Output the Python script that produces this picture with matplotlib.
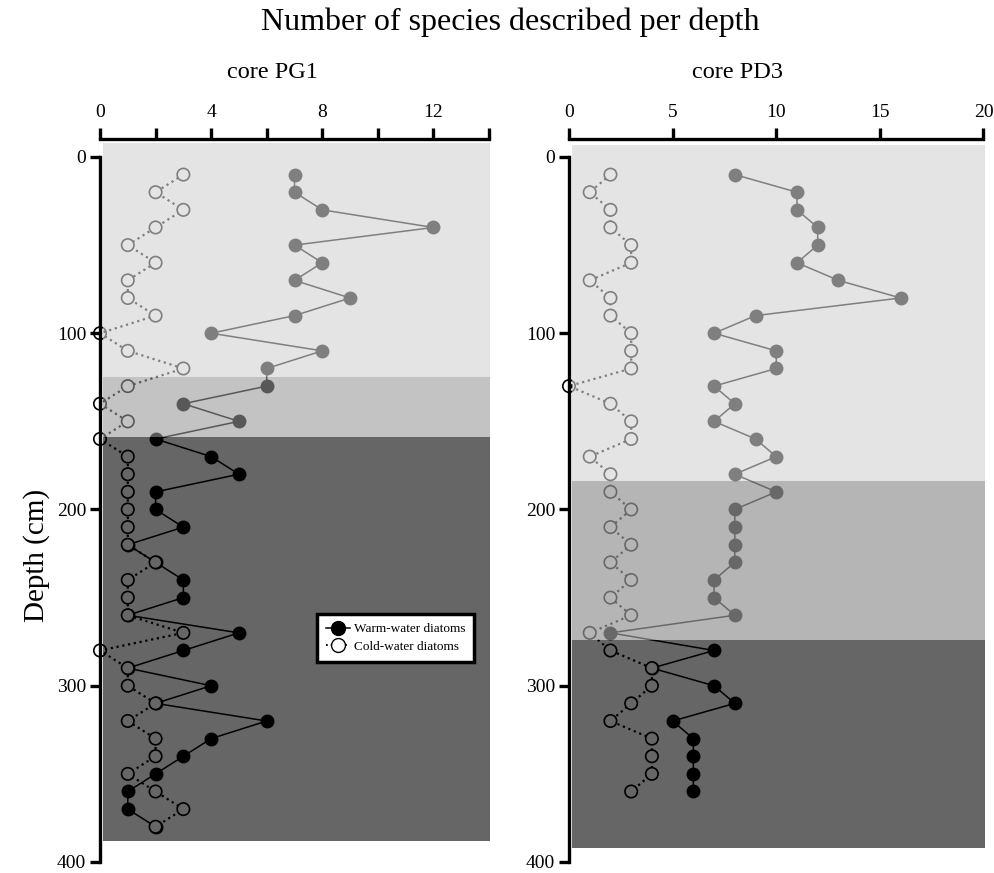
import matplotlib
matplotlib.use('Agg')
import matplotlib.pyplot as plt
from matplotlib.patches import Rectangle
from matplotlib.lines import Line2D

plt.rcParams['font.family'] = ['Liberation Serif', 'DejaVu Serif']

# ---------------- data ----------------
depth_pg1 = [10, 20, 30, 40, 50, 60, 70, 80, 90, 100, 110, 120, 130, 140, 150, 160, 170, 180, 190,
             200, 210, 220, 230, 240, 250, 260, 270, 280, 290, 300, 310, 320, 330, 340, 350, 360, 370, 380]
warm_pg1 = [7, 7, 8, 12, 7, 8, 7, 9, 7, 4, 8, 6, 6, 3, 5, 2, 4, 5, 2, 2,
            3, 1, 2, 3, 3, 1, 5, 3, 1, 4, 2, 6, 4, 3, 2, 1, 1, 2]
cold_pg1 = [3, 2, 3, 2, 1, 2, 1, 1, 2, 0, 1, 3, 1, 0, 1, 0, 1, 1, 1, 1,
            1, 1, 2, 1, 1, 1, 3, 0, 1, 1, 2, 1, 2, 2, 1, 2, 3, 2]

depth_pd3 = [10, 20, 30, 40, 50, 60, 70, 80, 90, 100, 110, 120, 130, 140, 150, 160, 170, 180,
             190, 200, 210, 220, 230, 240, 250, 260, 270, 280, 290, 300, 310, 320, 330, 340, 350, 360]
warm_pd3 = [8, 11, 11, 12, 12, 11, 13, 16, 9, 7, 10, 10, 7, 8, 7, 9, 10, 8,
            10, 8, 8, 8, 8, 7, 7, 8, 2, 7, 4, 7, 8, 5, 6, 6, 6, 6]
cold_pd3 = [2, 1, 2, 2, 3, 3, 1, 2, 2, 3, 3, 3, 0, 2, 3, 3, 1, 2,
            2, 3, 2, 3, 2, 3, 2, 3, 1, 2, 4, 4, 3, 2, 4, 4, 4, 3]

# zone limits (depth, cm)
zones_pg1 = [(-8, 125), (125, 159), (159, 388)]
zones_pd3 = [(-7, 184), (184, 274), (274, 392)]

xticks_pg1 = [0, 2, 4, 6, 8, 10, 12, 14]
xticklabels_pg1 = ['0', '', '4', '', '8', '', '12', '']
xticks_pd3 = [0, 5, 10, 15, 20]
xticklabels_pd3 = ['0', '5', '10', '15', '20']
yticks = [0, 100, 200, 300, 400]

# base grey + white overlay alpha per zone (light, medium, dark)
base_pg1 = ['#c9c9c9', '#a3a3a3', '#666666']
alpha_pg1 = [0.5, 0.35, 0.0]
base_pd3 = ['#c9c9c9', '#838383', '#666666']
alpha_pd3 = [0.5, 0.41, 0.0]

W, H = 995, 873
fig = plt.figure(figsize=(W / 100, H / 100), dpi=100)

ytop = -10.2
ybot = 400
AX_TOP, AX_BOT = 139, 862


def px_axes(x0, x1, y0, y1):
    return [x0 / W, 1 - y1 / H, (x1 - x0) / W, (y1 - y0) / H]


def panel(ax, depth, warm, cold, zones, bases, alphas, xmax, xticks, xlabels):
    ax.set_xlim(0, xmax)
    ax.set_ylim(ybot, ytop)
    x0 = 0.0075 * xmax
    x1 = xmax * 1.003
    for (za, zb), bc, al in zip(zones, bases, alphas):
        ax.add_patch(Rectangle((x0, za), x1 - x0, zb - za, facecolor=bc,
                               edgecolor='none', zorder=0, clip_on=False))
        if al > 0:
            ax.add_patch(Rectangle((x0, za), x1 - x0, zb - za, facecolor='white',
                                   alpha=al, edgecolor='none', zorder=6, clip_on=False))
    # face colors for open circles = base of zone (none on the axis line)
    faces = []
    for d, c in zip(depth, cold):
        fc = bases[-1]
        for (za, zb), bc in zip(zones, bases):
            if za <= d < zb:
                fc = bc
                break
        faces.append('none' if c == 0 else fc)
    ax.plot(warm, depth, '-', color='black', lw=1.1, marker='o', ms=9,
            mfc='black', mec='black', zorder=2, clip_on=False)
    ax.plot(cold, depth, ':', color='black', lw=1.6, zorder=3, clip_on=False)
    ax.scatter(cold, depth, s=80, facecolors=faces, edgecolors='black',
               linewidths=1.2, zorder=4, clip_on=False)

    ax.patch.set_visible(False)
    for s in ['right', 'bottom']:
        ax.spines[s].set_visible(False)
    ax.spines['left'].set_bounds(0, 400)
    ax.spines['top'].set_bounds(0, xmax)
    ax.spines['left'].set_linewidth(2.4)
    ax.spines['top'].set_linewidth(2.4)
    ax.xaxis.tick_top()
    ax.set_xticks(xticks)
    ax.set_xticklabels(xlabels)
    ax.set_yticks(yticks)
    ax.tick_params(axis='x', direction='out', length=8, width=2.4, pad=5, labelsize=14)
    ax.tick_params(axis='y', direction='out', length=7, width=2.4, pad=3, labelsize=14)


ax1 = fig.add_axes(px_axes(100, 489, AX_TOP, AX_BOT))
panel(ax1, depth_pg1, warm_pg1, cold_pg1, zones_pg1, base_pg1, alpha_pg1, 14,
      xticks_pg1, xticklabels_pg1)

ax2 = fig.add_axes(px_axes(569, 983.5, AX_TOP, AX_BOT))
panel(ax2, depth_pd3, warm_pd3, cold_pd3, zones_pd3, base_pd3, alpha_pd3, 20,
      xticks_pd3, xticklabels_pd3)

handles = [Line2D([], [], color='black', lw=1.1, marker='o', ms=10, mfc='black', mec='black'),
           Line2D([], [], color='black', lw=1.3, ls=':', marker='o', ms=10, mfc='white', mec='black')]
leg = ax1.legend(handles, ['Warm-water diatoms', 'Cold-water diatoms'],
                 loc='upper left',
                 bbox_to_anchor=((316.7 - 100) / 389, (AX_BOT - 614) / (AX_BOT - AX_TOP)),
                 borderaxespad=0, fontsize=9.5, handlelength=1.8, handletextpad=0.3,
                 borderpad=0.7, labelspacing=0.4, fancybox=False, framealpha=1,
                 edgecolor='black')
leg.get_frame().set_linewidth(2.5)
leg.set_zorder(20)

fig.text(510 / W, 1 - 22 / H, 'Number of species described per depth', ha='center',
         va='center', fontsize=23)
fig.text(272 / W, 1 - 72 / H, 'core PG1', ha='center', va='center', fontsize=17.5)
fig.text(738 / W, 1 - 72 / H, 'core PD3', ha='center', va='center', fontsize=17.5)
fig.text(37 / W, 1 - 555 / H, 'Depth (cm)', ha='center', va='center', rotation=90,
         fontsize=21)

fig.savefig('out.png', dpi=100)
